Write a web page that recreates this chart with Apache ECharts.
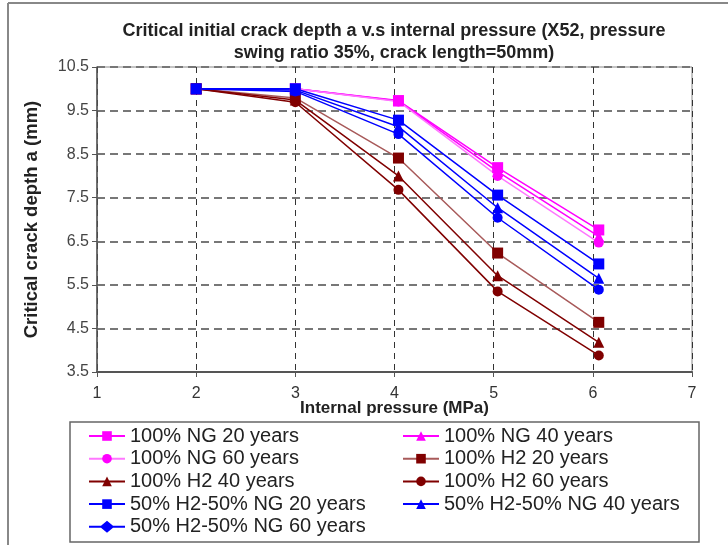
<!DOCTYPE html>
<html>
<head>
<meta charset="utf-8">
<script src="https://cdn.jsdelivr.net/npm/echarts@6/dist/echarts.min.js"></script>
<style>html,body{margin:0;padding:0;background:#fff;}#c{width:728px;height:545px;}</style>
</head>
<body>
<div id="c"></div>
<script>
// Data
var pressures = [2, 3, 4.04, 5.04, 6.06];
var seriesNames = [
  '100% NG 20 years', '100% NG 40 years', '100% NG 60 years',
  '100% H2 20 years', '100% H2 40 years', '100% H2 60 years',
  '50% H2-50% NG 20 years', '50% H2-50% NG 40 years', '50% H2-50% NG 60 years'
];
var ng20 = [10.0, 10.0, 9.73, 8.19, 6.76];
var ng40 = [10.0, 10.0, 9.72, 8.10, 6.61];
var ng60 = [10.0, 10.0, 9.71, 8.00, 6.47];
var h220 = [10.0, 9.79, 8.41, 6.23, 4.64];
var h240 = [10.0, 9.74, 8.00, 5.71, 4.18];
var h260 = [10.0, 9.69, 7.68, 5.35, 3.88];
var mix20 = [10.0, 10.0, 9.28, 7.56, 5.98];
var mix40 = [10.0, 9.97, 9.13, 7.27, 5.65];
var mix60 = [10.0, 9.94, 8.96, 7.04, 5.39];
var xTicks = [1, 2, 3, 4, 5, 6, 7];
var yTicks = [3.5, 4.5, 5.5, 6.5, 7.5, 8.5, 9.5, 10.5];

var values = [ng20, ng40, ng60, h220, h240, h260, mix20, mix40, mix60];
var lineColors = ['#ff00ff', '#ff00ff', '#ff77ff', '#a85a5a', '#800000', '#800000', '#0000ff', '#0000ff', '#0000ff'];
var markColors = ['#ff00ff', '#ff00ff', '#ff00ff', '#800000', '#800000', '#800000', '#0000ff', '#0000ff', '#0000ff'];
var symbols = ['rect', 'triangle', 'circle', 'rect', 'triangle', 'circle', 'rect', 'triangle', 'circle'];
var symbolSizes = [11, 11, 10, 11, 11, 10, 11, 11, 10];

var FONT = 'Liberation Sans, Arial, sans-serif';

var series = values.map(function (vals, i) {
  return {
    name: seriesNames[i],
    type: 'line',
    data: vals.map(function (v, j) { return [pressures[j], v]; }),
    symbol: symbols[i],
    symbolSize: symbolSizes[i],
    showAllSymbol: true,
    lineStyle: { color: lineColors[i], width: 1.5 },
    itemStyle: { color: markColors[i] },
    emphasis: { disabled: true },
    animation: false
  };
});

var diamondIcon = 'path://M0,5 L12,5 L18,0 L24,5 L36,5 L36,7 L24,7 L18,12 L12,7 L0,7 Z';
var legendText = { fontFamily: FONT, fontSize: 20, color: '#222', lineHeight: 20 };

var chart = echarts.init(document.getElementById('c'), null, { renderer: 'canvas' });
chart.setOption({
  animation: false,
  backgroundColor: '#fff',
  title: {
    text: 'Critical initial crack depth a v.s internal pressure (X52, pressure\nswing ratio 35%, crack length=50mm)',
    left: 389, top: 15, textAlign: 'center',
    textStyle: { fontFamily: FONT, fontSize: 18, fontWeight: 'bold', color: '#222', lineHeight: 22 }
  },
  grid: { left: 97, right: 36, top: 67, bottom: 173, show: true, borderColor: '#888', borderWidth: 1 },
  xAxis: {
    type: 'value', min: xTicks[0], max: xTicks[xTicks.length - 1], interval: 1,
    name: 'Internal pressure (MPa)', nameLocation: 'middle', nameGap: 27.5, nameMoveOverlap: false,
    nameTextStyle: { fontFamily: FONT, fontSize: 17, fontWeight: 'bold', color: '#222' },
    axisLine: { show: true, lineStyle: { color: '#555', width: 2 } },
    axisTick: { show: true, length: 5, lineStyle: { color: '#555' } },
    axisLabel: { fontFamily: FONT, fontSize: 16, color: '#333', margin: 14 },
    splitLine: { show: true, lineStyle: { color: '#333', type: [6, 5], width: 1 } }
  },
  yAxis: {
    type: 'value', min: yTicks[0], max: yTicks[yTicks.length - 1], interval: 1,
    name: 'Critical crack depth a (mm)', nameLocation: 'middle', nameGap: 56, nameRotate: 90,
    nameTextStyle: { fontFamily: FONT, fontSize: 18.5, fontWeight: 'bold', color: '#222' },
    axisLine: { show: true, lineStyle: { color: '#555', width: 1.5 } },
    axisTick: { show: true, length: 5, lineStyle: { color: '#555' } },
    axisLabel: { fontFamily: FONT, fontSize: 16, color: '#444', margin: 8 },
    splitLine: { show: true, lineStyle: { color: '#777', type: [8, 5], width: 2 } }
  },
  legend: [
    {
      data: [seriesNames[0], seriesNames[2], seriesNames[4], seriesNames[6], { name: seriesNames[8], icon: diamondIcon }],
      orient: 'vertical', left: 88, top: 426, height: 120, padding: 0, itemWidth: 36, itemHeight: 12, itemGap: 2.7,
      textStyle: legendText, selectedMode: false
    },
    {
      data: [seriesNames[1], seriesNames[3], seriesNames[5], seriesNames[7]],
      orient: 'vertical', left: 402, top: 426, height: 120, padding: 0, itemWidth: 36, itemHeight: 12, itemGap: 2.7,
      textStyle: legendText, selectedMode: false
    }
  ],
  graphic: [
    { type: 'rect', shape: { x: 70, y: 422, width: 629, height: 120 }, style: { fill: 'none', stroke: '#666', lineWidth: 1.5 }, z: -1 },
    { type: 'line', shape: { x1: 8, y1: 3, x2: 728, y2: 3 }, style: { stroke: '#888', lineWidth: 2 } },
    { type: 'line', shape: { x1: 8, y1: 3, x2: 8, y2: 545 }, style: { stroke: '#888', lineWidth: 2 } }
  ],
  series: series
});
</script>
</body>
</html>
